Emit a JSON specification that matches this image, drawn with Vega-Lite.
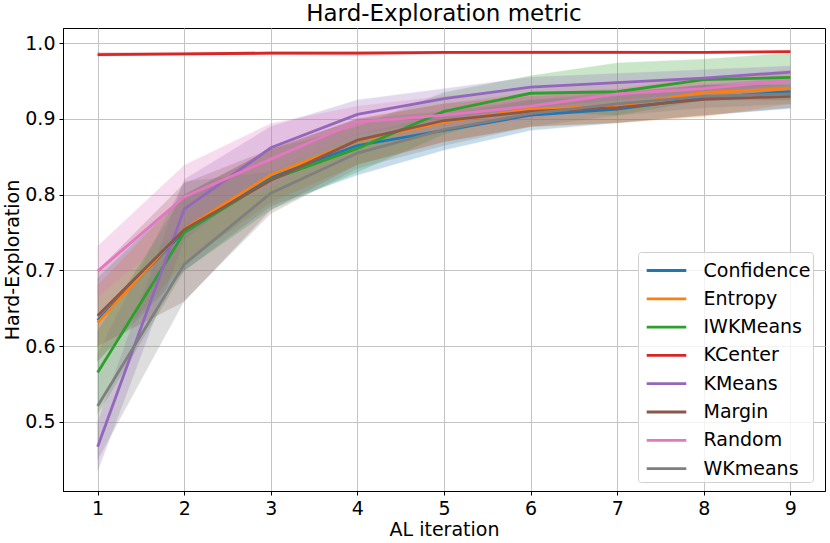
{
  "$schema": "https://vega.github.io/schema/vega-lite/v6.json",
  "width": 762,
  "height": 463,
  "autosize": {"type": "none"},
  "padding": {"left": 63, "top": 28, "right": 5, "bottom": 52},
  "background": "white",
  "title": {
    "text": "Hard-Exploration metric",
    "fontSize": 23,
    "font": "DejaVu Sans",
    "fontWeight": "normal",
    "color": "black",
    "anchor": "middle",
    "offset": 2
  },
  "config": {
    "font": "DejaVu Sans",
    "view": {"stroke": "black", "strokeWidth": 1},
    "axis": {
      "labelFont": "DejaVu Sans",
      "titleFont": "DejaVu Sans",
      "labelFontSize": 19,
      "titleFontSize": 19,
      "titleFontWeight": "normal",
      "labelColor": "black",
      "titleColor": "black",
      "domainColor": "black",
      "tickColor": "black",
      "tickSize": 4,
      "gridColor": "#c4c4c4",
      "gridWidth": 1
    }
  },
  "data": {
    "values": [
      {"method": "Confidence", "iter": 1, "mean": 0.634, "lo": 0.58, "hi": 0.69},
      {"method": "Confidence", "iter": 2, "mean": 0.752, "lo": 0.70, "hi": 0.80},
      {"method": "Confidence", "iter": 3, "mean": 0.823, "lo": 0.785, "hi": 0.86},
      {"method": "Confidence", "iter": 4, "mean": 0.865, "lo": 0.826, "hi": 0.90},
      {"method": "Confidence", "iter": 5, "mean": 0.885, "lo": 0.859, "hi": 0.91},
      {"method": "Confidence", "iter": 6, "mean": 0.905, "lo": 0.885, "hi": 0.925},
      {"method": "Confidence", "iter": 7, "mean": 0.913, "lo": 0.895, "hi": 0.93},
      {"method": "Confidence", "iter": 8, "mean": 0.928, "lo": 0.905, "hi": 0.945},
      {"method": "Confidence", "iter": 9, "mean": 0.936, "lo": 0.914, "hi": 0.955},
      {"method": "Entropy", "iter": 1, "mean": 0.631, "lo": 0.58, "hi": 0.68},
      {"method": "Entropy", "iter": 2, "mean": 0.755, "lo": 0.71, "hi": 0.80},
      {"method": "Entropy", "iter": 3, "mean": 0.826, "lo": 0.79, "hi": 0.86},
      {"method": "Entropy", "iter": 4, "mean": 0.871, "lo": 0.84, "hi": 0.90},
      {"method": "Entropy", "iter": 5, "mean": 0.896, "lo": 0.87, "hi": 0.92},
      {"method": "Entropy", "iter": 6, "mean": 0.913, "lo": 0.89, "hi": 0.935},
      {"method": "Entropy", "iter": 7, "mean": 0.917, "lo": 0.895, "hi": 0.94},
      {"method": "Entropy", "iter": 8, "mean": 0.935, "lo": 0.903, "hi": 0.955},
      {"method": "Entropy", "iter": 9, "mean": 0.940, "lo": 0.92, "hi": 0.96},
      {"method": "IWKMeans", "iter": 1, "mean": 0.565, "lo": 0.51, "hi": 0.62},
      {"method": "IWKMeans", "iter": 2, "mean": 0.750, "lo": 0.70, "hi": 0.80},
      {"method": "IWKMeans", "iter": 3, "mean": 0.820, "lo": 0.78, "hi": 0.86},
      {"method": "IWKMeans", "iter": 4, "mean": 0.861, "lo": 0.83, "hi": 0.89},
      {"method": "IWKMeans", "iter": 5, "mean": 0.910, "lo": 0.88, "hi": 0.935},
      {"method": "IWKMeans", "iter": 6, "mean": 0.934, "lo": 0.91, "hi": 0.957},
      {"method": "IWKMeans", "iter": 7, "mean": 0.936, "lo": 0.905, "hi": 0.974},
      {"method": "IWKMeans", "iter": 8, "mean": 0.952, "lo": 0.925, "hi": 0.979},
      {"method": "IWKMeans", "iter": 9, "mean": 0.955, "lo": 0.925, "hi": 0.987},
      {"method": "KCenter", "iter": 1, "mean": 0.985, "lo": 0.983, "hi": 0.988},
      {"method": "KCenter", "iter": 2, "mean": 0.986, "lo": 0.984, "hi": 0.988},
      {"method": "KCenter", "iter": 3, "mean": 0.987, "lo": 0.985, "hi": 0.989},
      {"method": "KCenter", "iter": 4, "mean": 0.987, "lo": 0.984, "hi": 0.989},
      {"method": "KCenter", "iter": 5, "mean": 0.988, "lo": 0.986, "hi": 0.989},
      {"method": "KCenter", "iter": 6, "mean": 0.988, "lo": 0.986, "hi": 0.990},
      {"method": "KCenter", "iter": 7, "mean": 0.988, "lo": 0.987, "hi": 0.990},
      {"method": "KCenter", "iter": 8, "mean": 0.988, "lo": 0.987, "hi": 0.989},
      {"method": "KCenter", "iter": 9, "mean": 0.989, "lo": 0.988, "hi": 0.990},
      {"method": "KMeans", "iter": 1, "mean": 0.467, "lo": 0.435, "hi": 0.50},
      {"method": "KMeans", "iter": 2, "mean": 0.781, "lo": 0.74, "hi": 0.82},
      {"method": "KMeans", "iter": 3, "mean": 0.862, "lo": 0.83, "hi": 0.89},
      {"method": "KMeans", "iter": 4, "mean": 0.906, "lo": 0.88, "hi": 0.925},
      {"method": "KMeans", "iter": 5, "mean": 0.927, "lo": 0.90, "hi": 0.94},
      {"method": "KMeans", "iter": 6, "mean": 0.942, "lo": 0.915, "hi": 0.955},
      {"method": "KMeans", "iter": 7, "mean": 0.948, "lo": 0.925, "hi": 0.96},
      {"method": "KMeans", "iter": 8, "mean": 0.954, "lo": 0.935, "hi": 0.965},
      {"method": "KMeans", "iter": 9, "mean": 0.962, "lo": 0.945, "hi": 0.97},
      {"method": "Margin", "iter": 1, "mean": 0.640, "lo": 0.60, "hi": 0.70},
      {"method": "Margin", "iter": 2, "mean": 0.754, "lo": 0.659, "hi": 0.815},
      {"method": "Margin", "iter": 3, "mean": 0.819, "lo": 0.78, "hi": 0.86},
      {"method": "Margin", "iter": 4, "mean": 0.872, "lo": 0.84, "hi": 0.90},
      {"method": "Margin", "iter": 5, "mean": 0.898, "lo": 0.87, "hi": 0.92},
      {"method": "Margin", "iter": 6, "mean": 0.910, "lo": 0.89, "hi": 0.93},
      {"method": "Margin", "iter": 7, "mean": 0.915, "lo": 0.895, "hi": 0.935},
      {"method": "Margin", "iter": 8, "mean": 0.926, "lo": 0.905, "hi": 0.945},
      {"method": "Margin", "iter": 9, "mean": 0.930, "lo": 0.915, "hi": 0.945},
      {"method": "Random", "iter": 1, "mean": 0.699, "lo": 0.665, "hi": 0.732},
      {"method": "Random", "iter": 2, "mean": 0.797, "lo": 0.76, "hi": 0.839},
      {"method": "Random", "iter": 3, "mean": 0.847, "lo": 0.81, "hi": 0.894},
      {"method": "Random", "iter": 4, "mean": 0.896, "lo": 0.87, "hi": 0.917},
      {"method": "Random", "iter": 5, "mean": 0.905, "lo": 0.885, "hi": 0.93},
      {"method": "Random", "iter": 6, "mean": 0.917, "lo": 0.90, "hi": 0.94},
      {"method": "Random", "iter": 7, "mean": 0.933, "lo": 0.915, "hi": 0.95},
      {"method": "Random", "iter": 8, "mean": 0.940, "lo": 0.925, "hi": 0.955},
      {"method": "Random", "iter": 9, "mean": 0.951, "lo": 0.935, "hi": 0.965},
      {"method": "WKmeans", "iter": 1, "mean": 0.521, "lo": 0.45, "hi": 0.59},
      {"method": "WKmeans", "iter": 2, "mean": 0.708, "lo": 0.66, "hi": 0.817},
      {"method": "WKmeans", "iter": 3, "mean": 0.802, "lo": 0.775, "hi": 0.83},
      {"method": "WKmeans", "iter": 4, "mean": 0.855, "lo": 0.835, "hi": 0.88},
      {"method": "WKmeans", "iter": 5, "mean": 0.886, "lo": 0.865, "hi": 0.905},
      {"method": "WKmeans", "iter": 6, "mean": 0.907, "lo": 0.89, "hi": 0.925},
      {"method": "WKmeans", "iter": 7, "mean": 0.920, "lo": 0.905, "hi": 0.935},
      {"method": "WKmeans", "iter": 8, "mean": 0.930, "lo": 0.915, "hi": 0.945},
      {"method": "WKmeans", "iter": 9, "mean": 0.933, "lo": 0.92, "hi": 0.945}
    ]
  },
  "encoding": {
    "x": {
      "field": "iter",
      "type": "quantitative",
      "title": "AL iteration",
      "scale": {"domain": [0.6, 9.4], "nice": false, "zero": false},
      "axis": {"values": [1, 2, 3, 4, 5, 6, 7, 8, 9], "format": "d", "grid": true, "titlePadding": 2, "labelPadding": 4}
    },
    "color": {
      "field": "method",
      "type": "nominal",
      "scale": {
        "domain": ["Confidence", "Entropy", "IWKMeans", "KCenter", "KMeans", "Margin", "Random", "WKmeans"],
        "range": ["#1f77b4", "#ff7f0e", "#2ca02c", "#d62728", "#9467bd", "#8c564b", "#e377c2", "#7f7f7f"]
      },
      "legend": {
        "title": null,
        "orient": "none",
        "legendX": 575,
        "legendY": 224,
        "symbolType": "M-1.4,0H1.4",
        "symbolSize": 800,
        "symbolStrokeWidth": 2.8,
        "symbolOpacity": 1,
        "symbolOffset": 10,
        "labelOffset": 21,
        "labelFontSize": 19,
        "labelFont": "DejaVu Sans",
        "labelColor": "black",
        "rowPadding": 2.3,
        "padding": 2.5,
        "fillColor": "rgba(255,255,255,0.8)",
        "strokeColor": "#d0d0d0",
        "cornerRadius": 3
      }
    }
  },
  "layer": [
    {
      "mark": {"type": "area", "opacity": 0.25, "strokeWidth": 1, "strokeOpacity": 0.35},
      "encoding": {
        "y": {
          "field": "lo",
          "type": "quantitative",
          "title": "Hard-Exploration",
          "scale": {"domain": [0.4086, 1.0202], "nice": false, "zero": false},
          "axis": {"values": [0.5, 0.6, 0.7, 0.8, 0.9, 1.0], "format": ".1f", "grid": true, "titlePadding": 2, "labelPadding": 4}
        },
        "y2": {"field": "hi"},
        "stroke": {"field": "method", "type": "nominal", "legend": null, "scale": {
          "domain": ["Confidence", "Entropy", "IWKMeans", "KCenter", "KMeans", "Margin", "Random", "WKmeans"],
          "range": ["#1f77b4", "#ff7f0e", "#2ca02c", "#d62728", "#9467bd", "#8c564b", "#e377c2", "#7f7f7f"]
        }}
      }
    },
    {
      "mark": {"type": "line", "strokeWidth": 2.8},
      "encoding": {
        "y": {"field": "mean", "type": "quantitative"}
      }
    }
  ]
}
